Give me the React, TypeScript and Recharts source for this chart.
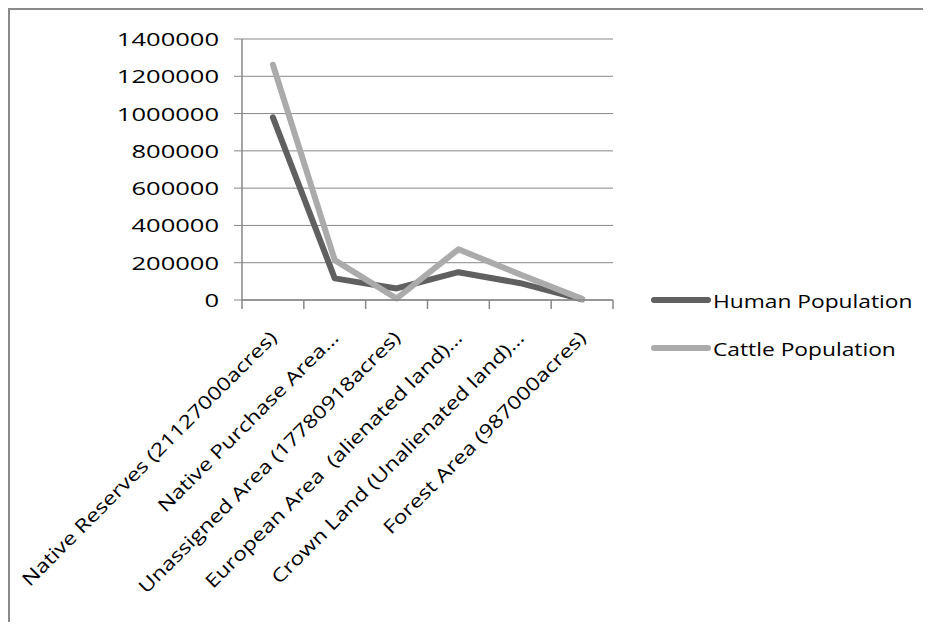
import React from 'react';
import { LineChart, Line, XAxis, YAxis, CartesianGrid, Legend } from 'recharts';

// Land categories (x axis)
const categories = [
  'Native Reserves (21127000acres)',
  'Native Purchase Area…',
  'Unassigned Area (17780918acres)',
  'European Area  (alienated land)…',
  'Crown Land (Unalienated land)…',
  'Forest Area (987000acres)',
];

// Population per land category
const humanPopulation = [980000, 116000, 62000, 149000, 90000, 3000];
const cattlePopulation = [1262000, 214000, 8000, 272000, 137000, 6000];

// Value axis ticks
const yTicks = [0, 200000, 400000, 600000, 800000, 1000000, 1200000, 1400000];

const seriesNames = ['Human Population', 'Cattle Population'];
const seriesColors = ['#606060', '#ababab'];

const data = categories.map((name, i) => ({
  name,
  human: humanPopulation[i],
  cattle: cattlePopulation[i],
}));

const FONT = '"Open Sans", sans-serif';
const FONT_SIZE = 18.5;
const Y_STRETCH = 1.38;
const X_STRETCH = 1.24;
const LEGEND_STRETCH = 1.23;
const TEXT_COLOR = '#000';
const AXIS_COLOR = '#878787';

const CHART_W = 913;
const CHART_H = 612;
const MARGIN = { top: 29, right: 310, bottom: 0, left: 0 };
const Y_AXIS_W = 232;
const PLOT_W = CHART_W - MARGIN.right - MARGIN.left - Y_AXIS_W;
const HALF_BAND = PLOT_W / (categories.length * 2);

const YTick = (props: any) => {
  const { x, y, payload } = props;
  return (
    <g transform={`translate(${x},${y}) scale(${Y_STRETCH},1)`}>
      <text
        x={0}
        y={0}
        textAnchor="end"
        dominantBaseline="central"
        fill={TEXT_COLOR}
        fontFamily={FONT}
        fontSize={FONT_SIZE}
      >
        {payload.value}
      </text>
    </g>
  );
};

const XTick = (props: any) => {
  const { x, y, payload, index } = props;
  const last = index === categories.length - 1;
  return (
    <g>
      <line x1={x - HALF_BAND} x2={x - HALF_BAND} y1={y} y2={y + 9} stroke={AXIS_COLOR} strokeWidth={1.5} />
      {last && (
        <line x1={x + HALF_BAND} x2={x + HALF_BAND} y1={y} y2={y + 9} stroke={AXIS_COLOR} strokeWidth={1.5} />
      )}
      <g transform={`translate(${x},${y + 34}) rotate(-45) scale(${X_STRETCH},1)`}>
        <text
          x={0}
          y={0}
          textAnchor="end"
          dominantBaseline="central"
          fill={TEXT_COLOR}
          fontFamily={FONT}
          fontSize={FONT_SIZE}
          style={{ whiteSpace: 'pre' }}
        >
          {payload.value}
        </text>
      </g>
    </g>
  );
};

const renderLegend = (props: any) => {
  const items = [...((props.payload || []) as any[])].sort(
    (a, b) => seriesNames.indexOf(a.value) - seriesNames.indexOf(b.value)
  );
  return (
    <div style={{ fontFamily: FONT, fontSize: FONT_SIZE, color: TEXT_COLOR }}>
      {items.map((item) => (
        <div key={item.value} style={{ display: 'flex', alignItems: 'center', height: 48 }}>
          <svg width={60} height={10} style={{ display: 'block' }}>
            <line x1={3} y1={5} x2={57} y2={5} stroke={item.color} strokeWidth={6} strokeLinecap="round" />
          </svg>
          <span
            style={{
              marginLeft: 2,
              display: 'inline-block',
              whiteSpace: 'nowrap',
              transform: `scaleX(${LEGEND_STRETCH})`,
              transformOrigin: 'left center',
            }}
          >
            {item.value}
          </span>
        </div>
      ))}
    </div>
  );
};

export default function App() {
  return (
    <div
      style={{
        width: CHART_W,
        height: CHART_H,
        borderTop: '2px solid #8a8a8a',
        borderLeft: '2px solid #8a8a8a',
        background: '#fff',
      }}
    >
      <LineChart width={CHART_W} height={CHART_H} data={data} margin={MARGIN}>
        <CartesianGrid vertical={false} stroke={AXIS_COLOR} strokeWidth={1} />
        <XAxis
          dataKey="name"
          interval={0}
          height={CHART_H - MARGIN.top - 261}
          padding={{ left: HALF_BAND, right: HALF_BAND }}
          tickLine={false}
          tickSize={0}
          tickMargin={0}
          axisLine={{ stroke: AXIS_COLOR, strokeWidth: 1.5 }}
          tick={<XTick />}
        />
        <YAxis
          width={Y_AXIS_W}
          domain={[0, 1400000]}
          ticks={yTicks}
          interval={0}
          tickSize={8}
          tickMargin={15}
          axisLine={{ stroke: AXIS_COLOR, strokeWidth: 1.5 }}
          tickLine={{ stroke: AXIS_COLOR }}
          tick={<YTick />}
        />
        <Legend
          layout="vertical"
          align="center"
          verticalAlign="middle"
          content={renderLegend}
          wrapperStyle={{ left: 641, top: 266, width: 272, height: 96 }}
        />
        <Line
          name={seriesNames[0]}
          dataKey="human"
          stroke={seriesColors[0]}
          strokeWidth={6}
          strokeLinecap="round"
          strokeLinejoin="round"
          dot={false}
          activeDot={false}
          isAnimationActive={false}
        />
        <Line
          name={seriesNames[1]}
          dataKey="cattle"
          stroke={seriesColors[1]}
          strokeWidth={6}
          strokeLinecap="round"
          strokeLinejoin="round"
          dot={false}
          activeDot={false}
          isAnimationActive={false}
        />
      </LineChart>
    </div>
  );
}
